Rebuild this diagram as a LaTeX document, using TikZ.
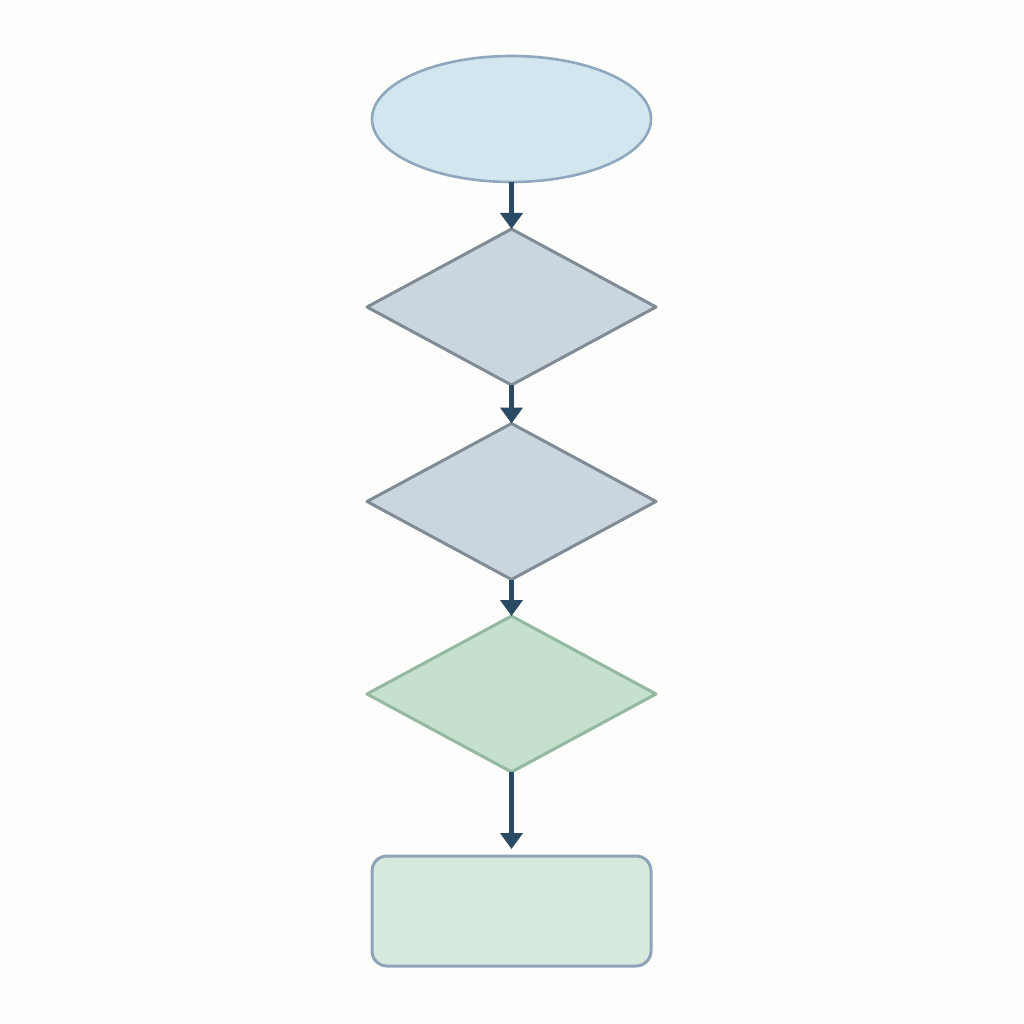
\documentclass[tikz,border=0pt]{standalone}
\usetikzlibrary{shapes.geometric,arrows.meta}
\definecolor{bgc}{HTML}{FDFDFB}
\definecolor{ellfill}{HTML}{D2E6EF}
\definecolor{elldraw}{HTML}{8FA8BD}
\definecolor{grayfill}{HTML}{CBD5DD}
\definecolor{graydraw}{HTML}{7F8C96}
\definecolor{greenfill}{HTML}{C5E0CC}
\definecolor{greendraw}{HTML}{95B8A0}
\definecolor{rectfill}{HTML}{D5EADD}
\definecolor{rectdraw}{HTML}{8FA3B8}
\definecolor{arrowc}{HTML}{2B4A63}
\begin{document}
\begin{tikzpicture}[x=1pt,y=-1pt,
  startnode/.style={ellipse,draw=elldraw,fill=ellfill,line width=2.6pt,minimum width=279pt,minimum height=126pt,inner sep=0pt,outer sep=0pt},
  decnode/.style={diamond,line width=3pt,minimum width=289pt,minimum height=156pt,inner sep=0pt,outer sep=0pt,line join=round},
  graydec/.style={decnode,draw=graydraw,fill=grayfill},
  greendec/.style={decnode,draw=greendraw,fill=greenfill},
  endnode/.style={rectangle,rounded corners=15pt,draw=rectdraw,fill=rectfill,line width=3pt,minimum width=279pt,minimum height=110pt,inner sep=0pt,outer sep=0pt},
  flow/.style={draw=arrowc,line width=5pt,-{Triangle[length=16pt,width=22pt]}}
]
\fill[bgc] (0,0) rectangle (1024,1024);
\useasboundingbox (0,0) rectangle (1024,1024);
\node[startnode] (start) at (511.5,119) {};
\node[graydec] (d1) at (511.5,307) {};
\node[graydec] (d2) at (511.5,501.5) {};
\node[greendec] (d3) at (511.5,694) {};
\node[endnode] (end) at (511.5,911) {};
\draw[flow] (start.south) -- (d1.north);
\draw[flow] (d1.south) -- (d2.north);
\draw[flow] (d2.south) -- (d3.north);
\draw[flow,shorten >=7pt] (d3.south) -- (end.north);
\end{tikzpicture}
\end{document}
